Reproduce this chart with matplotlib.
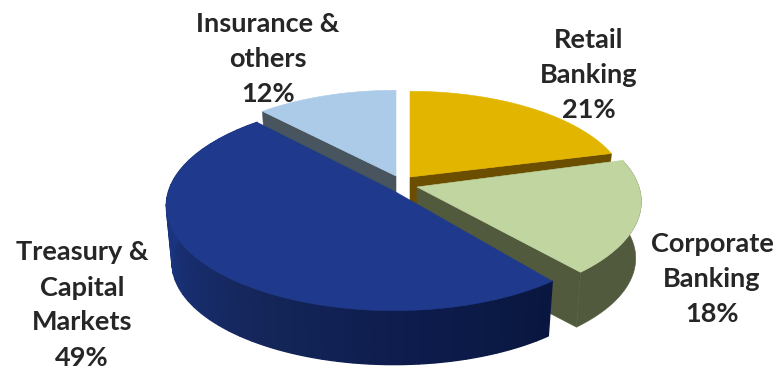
import numpy as np
import matplotlib
matplotlib.use("Agg")
import matplotlib.pyplot as plt
from matplotlib.patches import Polygon
from matplotlib.collections import PolyCollection
from matplotlib.colors import to_rgb

# Business mix, clockwise from twelve o'clock
categories = ["Retail\nBanking", "Corporate\nBanking", "Treasury &\nCapital\nMarkets", "Insurance &\nothers"]
shares = [21, 18, 49, 12]

top_colors = ["#E2B600", "#C1D5A0", "#1F3A8C", "#ACCBE9"]
cut_colors = ["#6B4E00", "#525A3E", "#142559", "#48555F"]

# Per-slice placement: tip in figure pixels, size factor, turn in degrees
tips = [(410, 177), (417, 187), (394, 191), (396, 176)]
sizes = [0.97, 1.0, 1.015, 0.97]
turns = [0.0, 1.5, -1.0, 0.0]
label_centers = [(589, 75), (712, 279), (82, 305), (268, 59)]

RX, RY, CAMERA = 222.0, 101.0, 7.0
THICKNESS, BOTTOM_SHRINK = 57.0, 0.975


def ring(i, theta_deg, lower=False):
    """Project rim points of a tilted disc with mild perspective."""
    t = np.radians(np.atleast_1d(theta_deg) + turns[i])
    x, y = np.cos(t), np.sin(t)
    s = CAMERA / (CAMERA + y)
    k = sizes[i] * (BOTTOM_SHRINK if lower else 1.0)
    return np.column_stack([tips[i][0] + k * RX * x * s,
                            tips[i][1] - k * RY * y * s + (THICKNESS if lower else 0.0)])


fig = plt.figure(figsize=(7.82, 3.68), dpi=100)
ax = fig.add_axes([0, 0, 1, 1])
ax.set_xlim(0, 782)
ax.set_ylim(368, 0)
ax.axis("off")

# Slice boundaries, in degrees, running clockwise
edges = 90 - np.cumsum([0] + shares) * 3.6


def radial_wall(i, theta):
    tip = tips[i]
    rim_top = ring(i, theta)[0]
    rim_low = ring(i, theta, lower=True)[0]
    ax.add_patch(Polygon([tip, rim_top, rim_low, (tip[0], tip[1] + THICKNESS)],
                         closed=True, fc=cut_colors[i], ec=cut_colors[i], lw=0.4))


def top_face(i):
    th = np.linspace(edges[i], edges[i + 1], 160)
    pts = np.vstack([[tips[i]], ring(i, th)])
    ax.add_patch(Polygon(pts, closed=True, fc=top_colors[i], ec=top_colors[i], lw=0.4))


def rim_wall_solid(i):
    th = np.linspace(edges[i], edges[i + 1], 160)
    pts = np.vstack([ring(i, th), ring(i, th[::-1], lower=True)])
    ax.add_patch(Polygon(pts, closed=True, fc=cut_colors[i], ec=cut_colors[i], lw=0.4))


def rim_wall_banded(i, shade, bands=48):
    th = np.linspace(edges[i], edges[i + 1], bands + 1)
    quads = []
    colors = []
    for j in range(bands):
        seg = np.linspace(th[j], th[j + 1], 6)
        quads.append(np.vstack([ring(i, seg), ring(i, seg[::-1], lower=True)]))
        colors.append(shade(0.5 * (th[j] + th[j + 1])))
    # Later bands overlap earlier ones, so no background shows between them
    ax.add_collection(PolyCollection(quads, facecolors=colors, edgecolors=colors, linewidths=1.0))


# Shading along the front wall of the largest slice
shade_angles = [-226.8, -170, -120, -80, -50.4]
shade_rgb = np.array([to_rgb(c) for c in ["#1B347F", "#1B347F", "#142559", "#0C1B4A", "#09173F"]])


def blue_shade(theta):
    return tuple(np.interp(theta, shade_angles, shade_rgb[:, c]) for c in range(3))


# Painted from the back of the pie to the front
radial_wall(3, edges[3])
top_face(3)
radial_wall(0, edges[1])
top_face(0)
radial_wall(1, edges[2])
rim_wall_solid(1)
top_face(1)
rim_wall_banded(2, blue_shade)
top_face(2)

for name, share, (cx, cy) in zip(categories, shares, label_centers):
    ax.text(cx, cy, f"{name}\n{share}%", ha="center", va="center", family="Lato",
            weight="bold", fontsize=19.5, color="#262626", linespacing=1.55)

fig.savefig("out.png", dpi=100)
